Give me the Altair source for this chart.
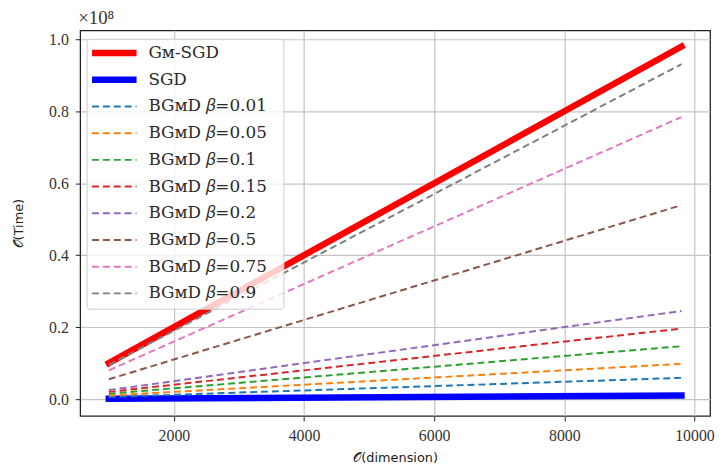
import altair as alt
import pandas as pd

series = ["Gᴍ-SGD", "SGD", "BGᴍD 𝛽=0.01", "BGᴍD 𝛽=0.05", "BGᴍD 𝛽=0.1",
          "BGᴍD 𝛽=0.15", "BGᴍD 𝛽=0.2", "BGᴍD 𝛽=0.5", "BGᴍD 𝛽=0.75", "BGᴍD 𝛽=0.9"]
x_start = 1000
x_end = 9800
# values in units of 1e8
y_start = [0.100, 0.001, 0.006, 0.010, 0.015, 0.020, 0.025, 0.055, 0.080, 0.095]
y_end = [0.980, 0.0098, 0.059, 0.098, 0.147, 0.196, 0.245, 0.539, 0.784, 0.931]
colors = ["#ff0000", "#0000ff", "#1f77b4", "#ff7f0e", "#2ca02c", "#d62728",
          "#9467bd", "#8c564b", "#e377c2", "#7f7f7f"]
solid_series = series[:2]
x_ticks = [2000, 4000, 6000, 8000, 10000]
y_ticks = [0.0, 0.2, 0.4, 0.6, 0.8, 1.0]

rows = []
for i, s in enumerate(series):
    rows.append({"series": s, "dim": x_start, "time": y_start[i], "ord": i})
    rows.append({"series": s, "dim": x_end, "time": y_end[i], "ord": i})
df = pd.DataFrame(rows)
df_solid = df[df["series"].isin(solid_series)]
df_dash = df[~df["series"].isin(solid_series)]

leg = pd.DataFrame({"series": series, "ord": list(range(len(series)))})
leg_solid = leg[leg["series"].isin(solid_series)]
leg_dash = leg[~leg["series"].isin(solid_series)]

color = alt.Color("series:N", scale=alt.Scale(domain=series, range=colors), legend=None)
xenc = alt.X("dim:Q", scale=alt.Scale(domain=[560, 10240], nice=False, zero=False),
             axis=alt.Axis(values=x_ticks, format="d", title="𝒪(dimension)"))
yscale = alt.Scale(domain=[-0.047, 1.025], nice=False, zero=False)

solid = alt.Chart(df_solid).mark_line(strokeWidth=6.5, strokeCap="square").encode(
    x=xenc,
    y=alt.Y("time:Q", scale=yscale,
            axis=alt.Axis(values=y_ticks, format=".1f", title="𝒪(Time)")),
    color=color, detail="series:N",
)
dashed = alt.Chart(df_dash).mark_line(strokeWidth=2, strokeDash=[7, 4], strokeCap="butt").encode(
    x=xenc,
    y=alt.Y("time:Q", scale=yscale, axis=None),
    color=color, detail="series:N",
)

leg_y = alt.Y("ord:Q", scale=alt.Scale(domain=[0, 9], range=[23, 266]), axis=None)

leg_box = alt.Chart(pd.DataFrame({"a": [0]})).mark_rect(
    fill="white", fillOpacity=0.8, stroke="#cccccc", strokeWidth=1, cornerRadius=3
).encode(x=alt.value(7), x2=alt.value(206), y=alt.value(9), y2=alt.value(282))

leg_solid_marks = alt.Chart(leg_solid).mark_rule(strokeWidth=6.5).encode(
    x=alt.value(12), x2=alt.value(57), y=leg_y, color=color)
leg_dash_marks = alt.Chart(leg_dash).mark_rule(strokeWidth=2, strokeDash=[7, 4]).encode(
    x=alt.value(12), x2=alt.value(57), y=leg_y, color=color)
leg_text = alt.Chart(leg).mark_text(
    align="left", baseline="middle", font="DejaVu Serif", fontSize=17, color="#2a2a2a"
).encode(x=alt.value(69), y=leg_y, text="series:N")

exp_text = alt.Chart(pd.DataFrame({"t": ["×10⁸"]})).mark_text(
    align="left", baseline="bottom", font="Liberation Serif", fontSize=19, color="#333333"
).encode(x=alt.value(-2), y=alt.value(-2), text="t:N")

chart = alt.layer(
    solid, dashed, leg_box, leg_solid_marks, leg_dash_marks, leg_text, exp_text
).resolve_scale(y="independent").properties(
    width=637, height=390,
    autosize=alt.AutoSizeParams(type="none"),
    padding={"left": 73, "top": 20, "right": 8, "bottom": 50},
).configure_view(
    stroke="#222222", strokeWidth=1.3
).configure_axis(
    domain=False, grid=True, gridColor="#c4c4c4", gridWidth=1.2,
    tickColor="#222222", tickSize=5, tickWidth=1,
    labelFont="Liberation Serif", labelFontSize=16, labelColor="#333333",
    titleFont="DejaVu Sans", titleFontSize=13, titleFontWeight="normal", titleColor="#222222",
).configure_axisX(
    labelPadding=7, titlePadding=8
).configure_axisY(
    labelPadding=7, titlePadding=23
)

chart.save("out.html", embed_options={"renderer": "svg", "actions": False})
